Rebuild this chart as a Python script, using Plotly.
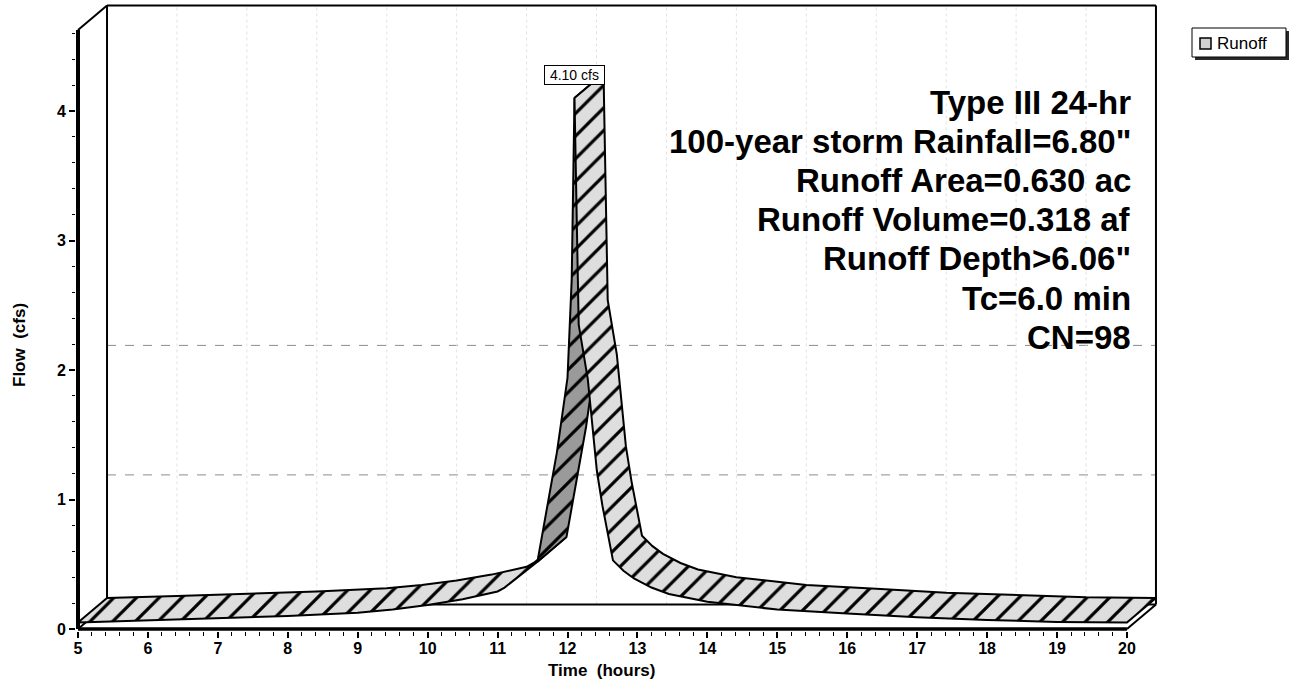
import numpy as np
import plotly.graph_objects as go

# ---------------- data ----------------
time_hr = [5.0, 6.0, 7.0, 8.0, 9.0, 9.5, 10.0, 10.5, 11.0, 11.1, 11.57,
           11.85, 12.0, 12.06, 12.1,
           12.16, 12.29, 12.42, 12.5, 12.65, 12.8, 12.95, 13.2, 13.45,
           14.0, 15.0, 16.0, 17.0, 18.0, 19.0, 20.0]
flow_cfs = [0.05, 0.065, 0.08, 0.10, 0.125, 0.15, 0.185, 0.23, 0.29, 0.32, 0.52,
            1.37, 1.94, 2.70, 4.10,
            2.35, 1.93, 1.22, 0.95, 0.53, 0.45, 0.39, 0.32, 0.27,
            0.21, 0.15, 0.12, 0.09, 0.07, 0.055, 0.05]
series_name = "Runoff"
peak_label = "4.10 cfs"
x_tick_vals = list(range(5, 21))
y_tick_vals = [0, 1, 2, 3, 4]
grid_levels = [1, 2]
x_title = "Time\u00a0\u00a0(hours)"
y_title = "Flow\u00a0\u00a0(cfs)"
info_lines = ["Type III 24-hr",
              "100-year storm Rainfall=6.80\"",
              "Runoff Area=0.630 ac",
              "Runoff Volume=0.318 af",
              "Runoff Depth>6.06\"",
              "Tc=6.0 min",
              "CN=98"]

# ---------------- geometry / style ----------------
DX = 0.415      # depth offset of back plane (hours)
DY = 0.19       # depth offset of back plane (cfs)
WALL_TOP = 4.625
X0, X1 = 5, 20
FONT = "Liberation Sans, Arial, sans-serif"

# plot-area in pixels
PL, PR, PT, PB = 76, 1162, 2, 631
XR = [X0 - 2 / 69.93, X0 + (PR - 78) / 69.93]
YR = [-(PB - 629) / 129.5, (629 - PT) / 129.5]


def xp(px):
    return (px - PL) / (PR - PL)


def yp(py):
    return (PB - py) / (PB - PT)


def ydat(py):
    return (629 - py) / 129.5


def xdat(px):
    return X0 + (px - 78) / 69.93


t = np.array(time_hr)
q = np.array(flow_cfs)
i_peak = int(np.argmax(q))
i_pinch = time_hr.index(11.57)


def ribbon(i0, i1):
    ft = t[i0:i1 + 1]
    fq = q[i0:i1 + 1]
    xs = list(ft) + list(ft[::-1] + DX) + [ft[0]]
    ys = list(fq) + list(fq[::-1] + DY) + [fq[0]]
    return xs, ys


fig = go.Figure()

parts = [(0, i_pinch, "#dedede"), (i_pinch, i_peak, "#9a9a9a"), (i_peak, len(t) - 1, "#dedede")]
for k, (a, b, col) in enumerate(parts):
    xs, ys = ribbon(a, b)
    fig.add_trace(go.Scatter(
        x=xs, y=ys, mode="lines", fill="toself",
        fillcolor=col,
        fillpattern=dict(shape="/", size=16, solidity=0.2, fgcolor="black",
                         bgcolor=col, fillmode="replace"),
        line=dict(color="black", width=2),
        name=series_name, showlegend=False, hoverinfo="skip"))

shapes = []
# back-wall gridlines
for lv in grid_levels:
    shapes.append(dict(type="line", layer="below", x0=X0 + DX, x1=X1 + DX, y0=lv + DY, y1=lv + DY,
                       line=dict(color="#8c8c8c", width=1, dash="dash")))
for h in range(X0 + 1, X1):
    shapes.append(dict(type="line", layer="below", x0=h + DX, x1=h + DX, y0=DY, y1=WALL_TOP + DY,
                       line=dict(color="#e2e2e2", width=1, dash="dot")))
# back wall + floor
wall = [((X0 + DX, DY), (X0 + DX, WALL_TOP + DY)),
        ((X0 + DX, WALL_TOP + DY), (X1 + DX, WALL_TOP + DY)),
        ((X1 + DX, DY), (X1 + DX, WALL_TOP + DY)),
        ((X0 + DX, DY), (X1 + DX, DY)),
        ((X0, 0), (X0 + DX, DY)),
        ((X1, 0), (X1 + DX, DY))]
for (a, b) in wall:
    shapes.append(dict(type="line", layer="below", x0=a[0], y0=a[1], x1=b[0], y1=b[1],
                       line=dict(color="black", width=2)))
shapes.append(dict(type="line", x0=X0, y0=WALL_TOP, x1=X0 + DX, y1=WALL_TOP + DY,
                   line=dict(color="black", width=2)))
# front axes
shapes.append(dict(type="line", x0=X0, y0=0, x1=X1, y1=0, line=dict(color="black", width=3.5)))
shapes.append(dict(type="line", x0=X0, y0=0, x1=X0, y1=WALL_TOP, line=dict(color="black", width=4)))

# legend box (paper coords)
shapes.append(dict(type="rect", xref="paper", yref="paper", x0=xp(1195), x1=xp(1289), y0=yp(60), y1=yp(31),
                   fillcolor="#2a2a2a", line=dict(width=0)))
shapes.append(dict(type="rect", xref="paper", yref="paper", x0=xp(1192), x1=xp(1286), y0=yp(57), y1=yp(28),
                   fillcolor="white", line=dict(color="black", width=1)))
shapes.append(dict(type="rect", xref="paper", yref="paper", x0=xp(1200), x1=xp(1211), y0=yp(49), y1=yp(38),
                   fillcolor="#d0d0d0", line=dict(color="black", width=1.5)))

annotations = []
annotations.append(dict(x=t[i_peak], y=q[i_peak], xref="x", yref="y",
                        text="\u00a0" + peak_label + "\u00a0", showarrow=False,
                        yanchor="bottom", xanchor="center", yshift=13,
                        font=dict(family=FONT, size=14, color="black"),
                        bgcolor="white", bordercolor="black", borderwidth=1, borderpad=1))
for i, line in enumerate(info_lines):
    annotations.append(dict(x=xdat(1133), y=ydat(102 + 39.2 * i), xref="x", yref="y", text=line,
                            showarrow=False, xanchor="right", yanchor="middle",
                            font=dict(family=FONT, size=33, color="black", weight="bold")))
annotations.append(dict(x=xp(601), y=yp(670), xref="paper", yref="paper", text=x_title,
                        showarrow=False, xanchor="center", yanchor="middle",
                        font=dict(family=FONT, size=17, color="black", weight="bold")))
annotations.append(dict(x=xp(20), y=yp(345), xref="paper", yref="paper", text=y_title,
                        showarrow=False, xanchor="center", yanchor="middle", textangle=-90,
                        font=dict(family=FONT, size=17, color="black", weight="bold")))
annotations.append(dict(x=xp(1215), y=yp(43), xref="paper", yref="paper", text=series_name,
                        showarrow=False, xanchor="left", yanchor="middle",
                        font=dict(family=FONT, size=17, color="black")))

fig.update_layout(
    width=1299, height=685, autosize=False,
    margin=dict(l=PL, r=1299 - PR, t=PT, b=685 - PB, pad=0),
    paper_bgcolor="white", plot_bgcolor="white",
    showlegend=False,
    shapes=shapes, annotations=annotations,
    xaxis=dict(range=XR, tickmode="array", tickvals=x_tick_vals,
               ticktext=[str(v) for v in x_tick_vals],
               ticks="outside", ticklen=6, tickwidth=1.5, tickcolor="black",
               ticklabelstandoff=-3,
               minor=dict(tickmode="array", tickvals=[round(X0 + 0.2 * k, 1) for k in range(76)],
                          ticks="outside", ticklen=4, tickwidth=1, tickcolor="black"),
               showline=False, showgrid=False, zeroline=False,
               tickfont=dict(family=FONT, size=16, color="black", weight="bold")),
    yaxis=dict(range=YR, tickmode="array", tickvals=y_tick_vals,
               ticktext=[str(v) for v in y_tick_vals],
               ticks="outside", ticklen=6, tickwidth=1.5, tickcolor="black",
               minor=dict(tickmode="array", tickvals=[round(0.2 * k, 1) for k in range(24)],
                          ticks="outside", ticklen=3, tickwidth=1, tickcolor="black"),
               showline=False, showgrid=False, zeroline=False,
               tickfont=dict(family=FONT, size=16, color="black", weight="bold")),
)

fig.write_html("out.html")
